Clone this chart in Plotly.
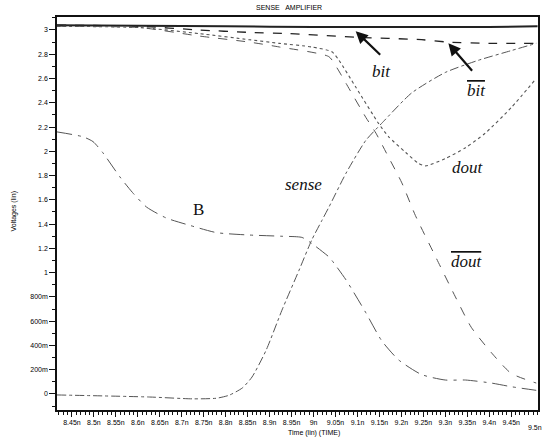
import plotly.graph_objects as go

# ---- data (time in ns, voltage in V) ----
bit_t = [8.416, 8.6, 8.8, 9.0, 9.2, 9.4, 9.51]
bit_v = [3.04, 3.035, 3.03, 3.025, 3.025, 3.025, 3.03]

bitbar_t = [8.416, 8.604, 8.74, 8.854, 8.944, 9.096, 9.246, 9.307, 9.398, 9.504]
bitbar_v = [3.04, 3.03, 3.00, 2.98, 2.97, 2.94, 2.92, 2.90, 2.89, 2.89]

dout_t = [8.416, 8.604, 8.74, 8.854, 8.922, 8.996, 9.042, 9.058, 9.096, 9.148,
          9.171, 9.21, 9.239, 9.255, 9.30, 9.346, 9.391, 9.45, 9.507]
dout_v = [3.03, 3.02, 2.97, 2.92, 2.89, 2.86, 2.82, 2.75, 2.53, 2.23,
          2.12, 1.99, 1.90, 1.88, 1.94, 2.03, 2.15, 2.36, 2.60]

doutbar_t = [8.416, 8.604, 8.74, 8.854, 8.922, 9.035, 9.053, 9.074, 9.119, 9.142,
             9.171, 9.201, 9.232, 9.278, 9.323, 9.359, 9.405, 9.45, 9.507]
doutbar_v = [3.03, 3.02, 2.95, 2.90, 2.86, 2.78, 2.69, 2.56, 2.28, 2.15,
             1.95, 1.74, 1.47, 1.13, 0.80, 0.55, 0.34, 0.17, 0.09]

sense_t = [8.416, 8.627, 8.724, 8.779, 8.808, 8.838, 8.860, 8.892, 8.928, 8.967,
           8.996, 9.019, 9.035, 9.074, 9.119, 9.155, 9.223, 9.30, 9.375, 9.45, 9.507]
sense_v = [-0.008, -0.025, -0.04, -0.035, -0.01, 0.05, 0.14, 0.36, 0.69, 1.02,
           1.27, 1.43, 1.54, 1.82, 2.09, 2.23, 2.48, 2.65, 2.75, 2.83, 2.89]

b_t = [8.416, 8.475, 8.498, 8.520, 8.559, 8.588, 8.620, 8.665, 8.718, 8.779,
       8.854, 8.928, 8.974, 8.996, 9.035, 9.042, 9.074, 9.119, 9.155, 9.194,
       9.246, 9.300, 9.346, 9.405, 9.450, 9.507]
b_v = [2.16, 2.12, 2.08, 1.99, 1.79, 1.66, 1.54, 1.45, 1.39, 1.33,
       1.31, 1.30, 1.29, 1.24, 1.13, 1.10, 0.94, 0.67, 0.44, 0.28,
       0.16, 0.115, 0.115, 0.09, 0.06, 0.03]

x_tickvals = [8.45, 8.5, 8.55, 8.6, 8.65, 8.7, 8.75, 8.8, 8.85, 8.9, 8.95,
              9.0, 9.05, 9.1, 9.15, 9.2, 9.25, 9.3, 9.35, 9.4, 9.45]
x_ticktext = ["8.45n", "8.5n", "8.55n", "8.6n", "8.65n", "8.7n", "8.75n", "8.8n",
              "8.85n", "8.9n", "8.95n", "9n", "9.05n", "9.1n", "9.15n", "9.2n",
              "9.25n", "9.3n", "9.35n", "9.4n", "9.45n"]
last_tick_val = 9.5
last_tick_text = "9.5n"
y_tickvals = [0, 0.2, 0.4, 0.6, 0.8, 1.0, 1.2, 1.4, 1.6, 1.8, 2.0, 2.2, 2.4, 2.6, 2.8, 3.0]
y_ticktext = ["0", "200m", "400m", "600m", "800m", "1", "1.2", "1.4", "1.6",
              "1.8", "2", "2.2", "2.4", "2.6", "2.8", "3"]

INK = "#222222"
TXT = "#000000"
fig = go.Figure()

def add(t, v, dash, width=1.0, color="#555555"):
    fig.add_trace(go.Scatter(x=t, y=v, mode="lines",
                             line=dict(color=color, width=width, dash=dash, shape="spline", smoothing=0.6),
                             showlegend=False, hoverinfo="skip"))

add(bit_t, bit_v, "solid", 2.0, INK)
add(bitbar_t, bitbar_v, "dash", 1.3, INK)
add(dout_t, dout_v, "dot", 1.1)
add(doutbar_t, doutbar_v, "dash", 1.0)
add(sense_t, sense_v, "dashdot", 1.0)
add(b_t, b_v, "longdashdot", 1.0)

serif = "Liberation Serif, Times New Roman, serif"
sans = "Liberation Sans, Arial, sans-serif"

ann = []
# arrows
ann.append(dict(x=9.096, y=2.99, ax=26, ay=25, text="", showarrow=True,
                arrowhead=2, arrowsize=1.1, arrowwidth=2.2, arrowcolor="#111"))
ann.append(dict(x=9.307, y=2.89, ax=25, ay=29, text="", showarrow=True,
                arrowhead=2, arrowsize=1.1, arrowwidth=2.2, arrowcolor="#111"))
# labels
ann.append(dict(x=9.155, y=2.66, text="<i>bit</i>", showarrow=False,
                font=dict(family=serif, size=17, color="#111")))
ann.append(dict(x=9.371, y=2.50, text="<i><span style='text-decoration:overline'>bit</span></i>",
                showarrow=False, font=dict(family=serif, size=17, color="#111")))
ann.append(dict(x=9.3525, y=1.87, text="<i>dout</i>", showarrow=False,
                font=dict(family=serif, size=17, color="#111")))
ann.append(dict(x=9.350, y=1.09, text="<i><span style='text-decoration:overline'>dout</span></i>",
                showarrow=False, font=dict(family=serif, size=17, color="#111")))
ann.append(dict(x=8.978, y=1.73, text="<i>sense</i>", showarrow=False,
                font=dict(family=serif, size=17, color="#111")))
ann.append(dict(x=8.738, y=1.52, text="B", showarrow=False,
                font=dict(family=serif, size=17, color="#111")))
# title / axis titles
ann.append(dict(xref="paper", yref="paper", x=0.483, y=1.0, yanchor="middle", yshift=10,
                text="SENSE   AMPLIFIER", showarrow=False,
                font=dict(family=sans, size=7, color=TXT)))
ann.append(dict(xref="paper", yref="paper", x=0.535, y=0, yanchor="middle", yshift=-23,
                text="Time (lin) (TIME)", showarrow=False,
                font=dict(family=sans, size=7, color=TXT)))
ann.append(dict(xref="paper", yref="paper", x=0, xshift=-50, y=0.5, yshift=2, text="Voltages (lin)",
                textangle=-90, showarrow=False, font=dict(family=sans, size=7, color=TXT)))
ann.append(dict(x=last_tick_val, yref="paper", y=0, yanchor="middle", yshift=-17, xshift=2,
                text=last_tick_text, showarrow=False, font=dict(family=sans, size=7, color=TXT)))

fig.update_layout(
    width=548, height=439,
    margin=dict(l=57, r=8, t=17, b=29),
    paper_bgcolor="white", plot_bgcolor="white",
    annotations=ann,
    xaxis=dict(range=[8.416, 9.511], tickvals=x_tickvals, ticktext=x_ticktext,
               ticks="outside", ticklen=5, tickwidth=1, tickcolor="#111",
               showline=True, linecolor="#111", linewidth=1.5, mirror=True,
               showgrid=False, zeroline=False,
               tickfont=dict(family=sans, size=7, color=TXT),
               minor=dict(dtick=0.01, tick0=8.45, ticks="outside", ticklen=3, tickcolor="#111", showgrid=False)),
    yaxis=dict(range=[-0.132, 3.107], tickvals=y_tickvals, ticktext=y_ticktext,
               ticks="outside", ticklen=6, tickwidth=1, tickcolor="#111",
               showline=True, linecolor="#111", linewidth=1.5, mirror=True,
               showgrid=False, zeroline=False,
               tickfont=dict(family=sans, size=7, color=TXT),
               minor=dict(dtick=0.1, tick0=0, ticks="outside", ticklen=3, tickcolor="#111", showgrid=False)),
)

fig.write_html("out.html", config={"displayModeBar": False},
               post_script="document.body.style.margin='0';document.body.style.padding='0';")
